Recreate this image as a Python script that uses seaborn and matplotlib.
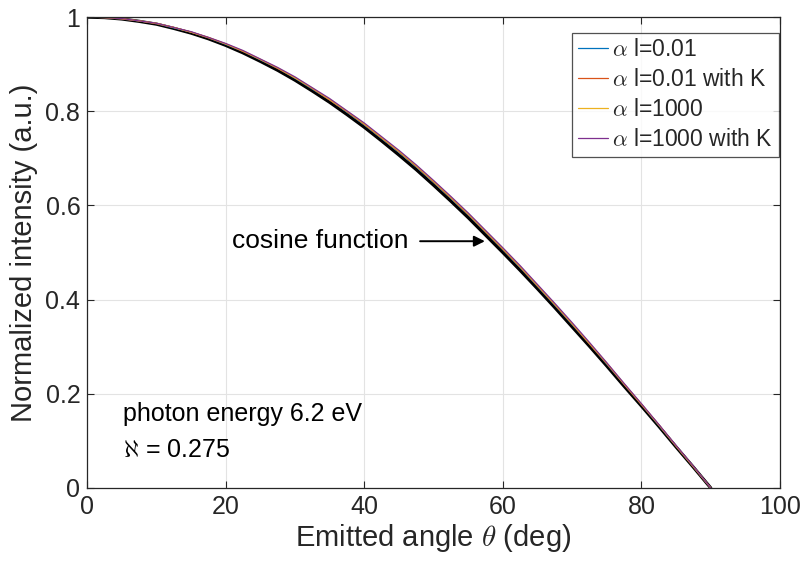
import matplotlib
matplotlib.use("Agg")
import matplotlib.pyplot as plt
import seaborn as sns

sns.set_theme(style="white")
plt.rcParams['font.family'] = ['Liberation Sans', 'DejaVu Sans']
plt.rcParams['mathtext.fontset'] = 'cm'

angle = [0, 2.5, 5, 7.5, 10, 12.5, 15, 17.5, 20, 22.5, 25, 27.5, 30, 32.5, 35, 37.5,
         40, 42.5, 45, 47.5, 50, 52.5, 55, 57.5, 60, 62.5, 65, 67.5, 70, 72.5, 75,
         77.5, 80, 82.5, 85, 87.5, 90]
cosine = [1.000, 0.999, 0.996, 0.991, 0.985, 0.976, 0.966, 0.954, 0.940, 0.924,
          0.906, 0.887, 0.866, 0.843, 0.819, 0.793, 0.766, 0.737, 0.707, 0.676,
          0.643, 0.609, 0.574, 0.537, 0.500, 0.462, 0.423, 0.383, 0.342, 0.301,
          0.259, 0.216, 0.174, 0.131, 0.087, 0.044, 0.000]
a001 = [1.000, 0.999, 0.996, 0.992, 0.986, 0.977, 0.968, 0.956, 0.942, 0.927,
        0.909, 0.891, 0.870, 0.847, 0.824, 0.798, 0.771, 0.742, 0.713, 0.682,
        0.649, 0.615, 0.580, 0.543, 0.506, 0.468, 0.428, 0.388, 0.347, 0.306,
        0.263, 0.220, 0.177, 0.133, 0.089, 0.045, 0.000]
a001K = [1.000, 0.999, 0.996, 0.992, 0.986, 0.978, 0.968, 0.956, 0.943, 0.927,
         0.910, 0.891, 0.871, 0.848, 0.824, 0.799, 0.772, 0.743, 0.714, 0.683,
         0.650, 0.616, 0.581, 0.544, 0.507, 0.469, 0.429, 0.389, 0.348, 0.306,
         0.264, 0.220, 0.177, 0.134, 0.089, 0.045, 0.000]
a1000 = [1.000, 0.999, 0.997, 0.992, 0.987, 0.978, 0.968, 0.957, 0.943, 0.928,
         0.910, 0.892, 0.871, 0.849, 0.825, 0.800, 0.773, 0.744, 0.715, 0.684,
         0.651, 0.617, 0.582, 0.545, 0.508, 0.470, 0.430, 0.390, 0.349, 0.307,
         0.265, 0.221, 0.178, 0.134, 0.089, 0.045, 0.000]
a1000K = [1.000, 0.999, 0.997, 0.992, 0.987, 0.978, 0.969, 0.957, 0.944, 0.929,
          0.911, 0.893, 0.873, 0.850, 0.827, 0.801, 0.775, 0.746, 0.717, 0.686,
          0.653, 0.619, 0.584, 0.547, 0.510, 0.472, 0.432, 0.392, 0.351, 0.309,
          0.266, 0.222, 0.179, 0.135, 0.090, 0.046, 0.000]

labels = [r'$\alpha$ l=0.01', r'$\alpha$ l=0.01 with K', r'$\alpha$ l=1000', r'$\alpha$ l=1000 with K']
colors = ['#0072BD', '#D95319', '#EDB120', '#7E2F8E']
series = [a001, a001K, a1000, a1000K]

fig = plt.figure(figsize=(8, 5.7), dpi=100)
ax = fig.add_axes([0.109, 0.144, 0.866, 0.826])

sns.lineplot(x=angle, y=cosine, ax=ax, color='black', linewidth=2.3, legend=False)
for s, c, l in zip(series, colors, labels):
    sns.lineplot(x=angle, y=s, ax=ax, color=c, linewidth=0.9, label=l)

ax.set_xlim(0, 100)
ax.set_ylim(0, 1)
ax.set_xticks([0, 20, 40, 60, 80, 100])
ax.set_yticks([0, 0.2, 0.4, 0.6, 0.8, 1])
ax.set_yticklabels(['0', '0.2', '0.4', '0.6', '0.8', '1'])
ax.grid(True, color='#e3e3e3', linewidth=0.8)
ax.tick_params(direction='in', length=5, width=0.8, colors='#262626', labelsize=18,
               top=True, right=True, bottom=True, left=True, pad=5)
for sp in ax.spines.values():
    sp.set_color('#262626')
    sp.set_linewidth(0.9)

ax.set_xlabel(r'Emitted angle $\theta$ (deg)', fontsize=21, color='#262626', labelpad=2)
ax.set_ylabel('Normalized intensity (a.u.)', fontsize=21, color='#262626', labelpad=5)

leg = ax.legend(loc='upper right', bbox_to_anchor=(0.998, 0.967), fontsize=16.5,
                frameon=True, fancybox=False,
                edgecolor='#262626', handlelength=1.3, handletextpad=0.2,
                borderpad=0.25, labelspacing=0.3, borderaxespad=0.0)
leg.get_frame().set_linewidth(0.9)

ax.annotate('cosine function', xy=(57.4, 0.524), xytext=(20.9, 0.524),
            fontsize=19, color='black', va='center', ha='left',
            arrowprops=dict(arrowstyle='-|>', color='black', lw=1.4, mutation_scale=16,
                            shrinkA=6, shrinkB=0))
ax.text(5.1, 0.158, 'photon energy 6.2 eV', fontsize=18, color='black', va='center')
ax.text(5.1, 0.081, r'$\aleph$ = 0.275', fontsize=18, color='black', va='center')

fig.savefig('out.png', dpi=100)
